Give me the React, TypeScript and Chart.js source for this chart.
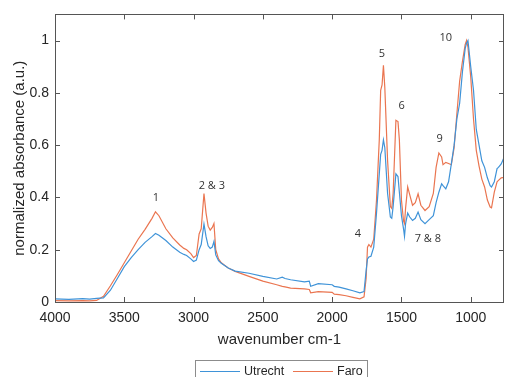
import React, { useEffect, useRef } from "react";
import { Chart, registerables } from "chart.js";

Chart.register(...registerables);

const wavenumbers = [
  4000, 3900, 3800, 3750, 3700, 3650, 3600, 3550, 3500, 3450, 3400, 3350, 3300, 3275, 3250, 3200, 3150, 3100,
  3070, 3050, 3020, 3000, 2980, 2960, 2945, 2925, 2910, 2895, 2880, 2865, 2853, 2840, 2820, 2800, 2750, 2700,
  2600, 2500, 2400, 2360, 2340, 2300, 2200, 2165, 2155, 2100, 2000, 1985, 1950, 1900, 1850, 1800, 1770, 1755,
  1745, 1735, 1720, 1700, 1680, 1660, 1650, 1640, 1630, 1620, 1600, 1580, 1570, 1560, 1540, 1525, 1515, 1500,
  1485, 1478, 1470, 1455, 1440, 1420, 1400, 1380, 1360, 1330, 1300, 1270, 1250, 1230, 1210, 1200, 1180, 1160,
  1140, 1120, 1100, 1080, 1060, 1040, 1030, 1020, 1000, 980, 960, 940, 920, 900, 880, 860, 850, 830, 810, 800,
  780, 760,
];

const faro = [
  0.005, 0.004, 0.005, 0.004, 0.006, 0.022, 0.062, 0.105, 0.15, 0.195, 0.24, 0.278, 0.32, 0.345, 0.33, 0.28, 0.245, 0.218,
  0.205, 0.2, 0.185, 0.17, 0.178, 0.26, 0.28, 0.415, 0.34, 0.29, 0.275, 0.285, 0.3, 0.2, 0.165, 0.15, 0.13, 0.117,
  0.098, 0.08, 0.066, 0.06, 0.058, 0.053, 0.05, 0.048, 0.035, 0.04, 0.037, 0.03, 0.028, 0.024, 0.018, 0.012, 0.02, 0.09,
  0.21, 0.22, 0.21, 0.24, 0.39, 0.62, 0.81, 0.83, 0.905, 0.82, 0.54, 0.365, 0.358, 0.415, 0.695, 0.69, 0.62, 0.39,
  0.31, 0.3, 0.36, 0.44, 0.41, 0.37, 0.38, 0.414, 0.37, 0.35, 0.365, 0.415, 0.515, 0.57, 0.555, 0.525, 0.534, 0.53,
  0.525, 0.59, 0.72, 0.845, 0.92, 0.985, 1.0, 0.975, 0.86, 0.7, 0.58, 0.52, 0.47, 0.44, 0.39, 0.363, 0.36, 0.42, 0.46, 0.465,
  0.475, 0.477,
];

const utrecht = [
  0.012, 0.01, 0.013, 0.011, 0.014, 0.016, 0.045, 0.09, 0.135, 0.17, 0.2, 0.228, 0.25, 0.262, 0.255, 0.235, 0.21, 0.19,
  0.182, 0.178, 0.165, 0.155, 0.16, 0.2, 0.22, 0.298, 0.25, 0.215, 0.205, 0.21, 0.232, 0.18, 0.158, 0.148, 0.13, 0.118,
  0.11, 0.098, 0.088, 0.095, 0.09, 0.085, 0.077, 0.08, 0.06, 0.07, 0.066, 0.06, 0.057, 0.05, 0.043, 0.035, 0.04, 0.12,
  0.165, 0.172, 0.175, 0.21, 0.34, 0.49, 0.565, 0.58, 0.62, 0.59, 0.415, 0.325, 0.32, 0.365, 0.49, 0.48, 0.42, 0.33,
  0.28, 0.251, 0.3, 0.34, 0.325, 0.312, 0.32, 0.344, 0.315, 0.3, 0.315, 0.33, 0.38, 0.42, 0.452, 0.445, 0.433, 0.46,
  0.528, 0.6, 0.7, 0.76, 0.88, 0.97, 0.99, 1.0, 0.9, 0.81, 0.66, 0.6, 0.54, 0.515, 0.475, 0.445, 0.44, 0.46, 0.51, 0.515,
  0.528, 0.553,
];

const xTicks = [4000, 3500, 3000, 2500, 2000, 1500, 1000];
const yTicks = [0, 0.2, 0.4, 0.6, 0.8, 1];
const peakLabels = ["1", "2 & 3", "4", "5", "6", "7 & 8", "9", "10"];
const peakX = [3272, 2868, 1815, 1642, 1498, 1310, 1224, 1180];
const peakY = [0.4, 0.445, 0.26, 0.95, 0.75, 0.24, 0.625, 1.01];

const BLUE = "#3f93d8";
const ORANGE = "#ea7550";
const TEXT = "#262626";
const FONT = "'Liberation Sans', Arial, sans-serif";

const decorPlugin = {
  id: "decor",
  afterDatasetsDraw(chart: any) {
    const { ctx, chartArea: a, scales } = chart;
    const xs = scales.x;
    const ys = scales.y;
    ctx.save();
    ctx.strokeStyle = "#555555";
    ctx.lineWidth = 1;
    ctx.strokeRect(Math.round(a.left) + 0.5, Math.round(a.top) + 0.5, Math.round(a.right - a.left) - 1, Math.round(a.bottom - a.top));
    const tl = 5;
    ctx.beginPath();
    xTicks.forEach((v) => {
      const px = Math.round(xs.getPixelForValue(v)) + 0.5;
      ctx.moveTo(px, a.bottom);
      ctx.lineTo(px, a.bottom - tl);
      ctx.moveTo(px, a.top);
      ctx.lineTo(px, a.top + tl);
    });
    yTicks.forEach((v) => {
      const py = Math.round(ys.getPixelForValue(v)) + 0.5;
      ctx.moveTo(a.left, py);
      ctx.lineTo(a.left + tl, py);
      ctx.moveTo(a.right, py);
      ctx.lineTo(a.right - tl, py);
    });
    ctx.stroke();
    ctx.fillStyle = "#333333";
    ctx.font = "11px 'Open Sans', 'Noto Sans', sans-serif";
    ctx.textAlign = "center";
    ctx.textBaseline = "middle";
    peakLabels.forEach((t, i) => {
      ctx.fillText(t, xs.getPixelForValue(peakX[i]), ys.getPixelForValue(peakY[i]));
    });
    ctx.restore();
  },
  afterDraw(chart: any) {
    const { ctx } = chart;
    const ds = chart.data.datasets;
    ctx.save();
    const bx = 195.5, by = 360.5, bw = 172, bh = 24;
    ctx.fillStyle = "#ffffff";
    ctx.fillRect(bx, by, bw, bh);
    ctx.strokeStyle = "#8c8c8c";
    ctx.lineWidth = 1;
    ctx.strokeRect(bx, by, bw, bh);
    const ly = 371.5;
    const items = [
      { x0: 200, x1: 240, tx: 244 },
      { x0: 293, x1: 333, tx: 337 },
    ];
    ctx.font = `12.5px ${FONT}`;
    ctx.textBaseline = "middle";
    ctx.textAlign = "left";
    items.forEach((it, i) => {
      ctx.strokeStyle = ds[i].borderColor;
      ctx.lineWidth = 1.2;
      ctx.beginPath();
      ctx.moveTo(it.x0, ly);
      ctx.lineTo(it.x1, ly);
      ctx.stroke();
      ctx.fillStyle = TEXT;
      ctx.fillText(ds[i].label, it.tx, ly);
    });
    ctx.restore();
  },
};

export default function App() {
  const ref = useRef<HTMLCanvasElement | null>(null);
  useEffect(() => {
    if (!ref.current) return;
    const chart = new Chart(ref.current, {
      type: "line",
      data: {
        datasets: [
          {
            label: "Utrecht",
            data: wavenumbers.map((w, i) => ({ x: w, y: utrecht[i] })),
            borderColor: BLUE,
            borderWidth: 1.2,
            pointRadius: 0,
            tension: 0,
            fill: false,
          },
          {
            label: "Faro",
            data: wavenumbers.map((w, i) => ({ x: w, y: faro[i] })),
            borderColor: ORANGE,
            borderWidth: 1.2,
            pointRadius: 0,
            tension: 0,
            fill: false,
          },
        ],
      },
      options: {
        animation: false,
        responsive: false,
        devicePixelRatio: 1,
        layout: { padding: { top: 13, right: 1, bottom: 25, left: 0 } },
        plugins: { legend: { display: false }, tooltip: { enabled: false } },
        scales: {
          x: {
            type: "linear",
            reverse: true,
            min: 760,
            max: 4000,
            afterBuildTicks: (s: any) => {
              s.ticks = xTicks.map((v) => ({ value: v }));
            },
            afterFit: (s: any) => {
              s.height = 50;
            },
            grid: { display: false, drawTicks: false },
            border: { display: false },
            ticks: {
              autoSkip: false,
              maxRotation: 0,
              padding: 8,
              color: TEXT,
              font: { family: FONT, size: 14 },
              callback: (v: any) => String(v),
            },
            title: {
              display: true,
              text: "wavenumber cm-1",
              color: TEXT,
              font: { family: FONT, size: 15 },
              padding: { top: 0, bottom: 3 },
            },
          },
          y: {
            min: 0,
            max: 1.1,
            afterBuildTicks: (s: any) => {
              s.ticks = yTicks.map((v) => ({ value: v }));
            },
            afterFit: (s: any) => {
              s.width = 55;
            },
            grid: { display: false, drawTicks: false },
            border: { display: false },
            ticks: {
              padding: 6,
              color: TEXT,
              font: { family: FONT, size: 14 },
              callback: (v: any) => String(v),
            },
            title: {
              display: true,
              text: "normalized absorbance (a.u.)",
              color: TEXT,
              font: { family: FONT, size: 15 },
              padding: { top: 11, bottom: 0 },
            },
          },
        },
      },
      plugins: [decorPlugin],
    });
    return () => chart.destroy();
  }, []);
  return (
    <div style={{ position: "absolute", left: 0, top: 0, width: 505, height: 377, background: "#fff" }}>
      <canvas ref={ref} width={505} height={377} />
    </div>
  );
}
